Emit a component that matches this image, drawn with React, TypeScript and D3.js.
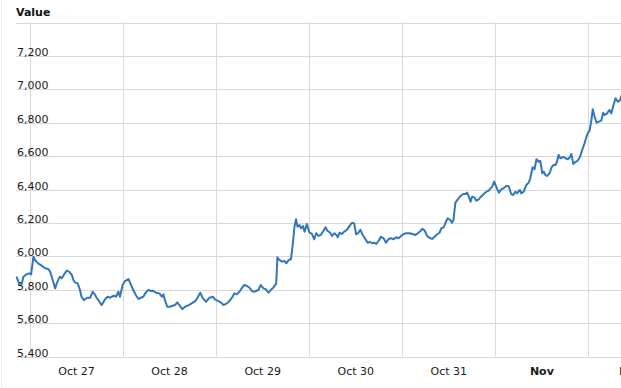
import React from "react";
import * as d3 from "d3";

// Hours after 2017-10-27 00:00 UTC
const hours = [
  -3.4, -2.8, -2.1, -1.7, -0.9, -0.2, 0.3, 0.9, 1.3, 2.1,
  3.0, 3.9, 4.7, 5.2, 5.6, 6.5, 6.9, 7.7, 8.2, 8.6,
  9.5, 10.1, 10.8, 11.2, 11.6, 12.3, 12.9, 13.3, 13.9, 14.8,
  15.5, 16.2, 16.8, 17.2, 17.9, 18.5, 19.4, 20.0, 20.7, 21.1,
  21.7, 22.2, 22.8, 23.2, 23.9, 24.5, 25.4, 26.0, 26.7, 27.4,
  28.0, 28.6, 29.2, 29.9, 30.5, 31.2, 31.8, 32.5, 33.4, 34.0,
  34.4, 34.8, 35.4, 36.1, 36.8, 37.4, 38.0, 38.7, 39.3, 40.0,
  40.9, 41.7, 42.6, 43.2, 43.9, 44.6, 45.4, 46.3, 47.2, 47.7,
  48.6, 49.2, 49.9, 50.8, 51.4, 52.1, 52.7, 53.3, 54.0, 54.6,
  55.2, 55.9, 56.6, 57.2, 57.8,
  58.9, 59.5, 60.2, 60.9, 61.5, 62.1, 62.8, 63.5, 63.8, 64.3,
  65.0, 65.6, 66.1, 66.7, 67.3, 67.8, 68.2, 68.6, 69.0, 69.5,
  69.9, 70.4, 70.8, 71.4, 72.0, 72.7, 73.3, 73.8, 74.4, 75.0,
  75.7, 76.2, 76.7, 77.4, 77.9, 78.5, 79.0, 79.4, 79.8, 80.4,
  81.0, 81.7, 82.4, 83.0, 83.6, 84.1, 84.6, 85.2, 85.8, 86.5,
  87.1, 87.6, 88.2, 88.8, 89.3, 89.9, 90.5, 91.2, 91.8, 92.5,
  93.1, 93.8, 94.4, 95.0, 95.7, 96.3, 97.0, 97.9, 98.8, 99.4,
  100.0, 100.7, 101.2, 101.8, 102.4, 103.0, 103.7, 104.3, 105.0, 105.6,
  106.1, 106.7, 107.1, 107.7, 108.4, 108.8, 109.2, 109.7, 110.3, 111.0,
  111.7, 112.3, 112.7, 113.1, 113.6, 114.0, 114.6, 115.1, 115.7, 116.3,
  117.0, 117.7, 118.3, 118.7,
  119.2, 119.7, 120.3, 120.9, 121.5, 122.1, 122.8, 123.4, 124.1, 124.6,
  125.2, 125.6, 126.3, 126.7, 127.3, 128.0, 128.6, 129.0, 129.6, 130.1,
  130.6, 131.2, 131.6, 132.1, 132.5, 132.9, 133.3, 134.0, 134.5, 135.0,
  135.5, 135.9, 136.3, 136.8, 137.5, 138.1, 138.7, 139.2, 139.6, 140.1,
  140.7, 141.2, 141.8, 142.4, 143.0, 143.5, 143.9, 144.3, 144.8, 145.1,
  145.6, 146.1, 146.7, 147.3, 147.8, 148.2, 148.8, 149.4, 149.9, 150.4,
  151.0, 151.6, 152.1, 152.5,
];

const values = [
  5874, 5838, 5834, 5878, 5892, 5898, 5892, 5998, 5978, 5958,
  5944, 5928, 5924, 5908, 5878, 5808, 5838, 5878, 5868, 5884,
  5914, 5908, 5888, 5858, 5844, 5838, 5798, 5758, 5738, 5752,
  5752, 5788, 5768, 5752, 5728, 5708, 5744, 5758, 5752, 5758,
  5764, 5758, 5788, 5758, 5828, 5852, 5864, 5832, 5795, 5764,
  5744, 5752, 5758, 5784, 5798, 5792, 5794, 5782, 5778, 5758,
  5772, 5738, 5698, 5698, 5704, 5708, 5724, 5702, 5684, 5698,
  5708, 5718, 5732, 5752, 5782, 5748, 5728, 5752, 5758, 5742,
  5732, 5724, 5708, 5718, 5732, 5752, 5778, 5772, 5788, 5808,
  5828, 5824, 5812, 5792, 5788,
  5798, 5828, 5808, 5802, 5782, 5798, 5814, 5838, 5994, 5978,
  5968, 5972, 5958, 5978, 5982, 6078, 6177, 6222, 6177, 6187,
  6168, 6181, 6147, 6193, 6144, 6134, 6102, 6138, 6122, 6128,
  6153, 6174, 6153, 6141, 6122, 6138, 6128, 6114, 6141, 6134,
  6147, 6158, 6181, 6201, 6197, 6132, 6138, 6158, 6128, 6102,
  6081, 6087, 6078, 6081, 6074, 6093, 6117, 6108, 6081, 6104,
  6108, 6102, 6114, 6108, 6122, 6132, 6138, 6138, 6132, 6128,
  6138, 6152, 6165, 6153, 6122, 6111, 6104, 6117, 6132, 6141,
  6168, 6174, 6198, 6228, 6217, 6201, 6217, 6321, 6341, 6361,
  6373, 6373, 6381, 6361, 6327, 6357, 6353, 6333, 6341, 6357,
  6373, 6387, 6393, 6405,
  6417, 6447, 6413, 6381, 6401, 6407, 6421, 6421, 6373, 6367,
  6387, 6377, 6397, 6377, 6387, 6427, 6441, 6467, 6533, 6521,
  6581, 6566, 6571, 6497, 6507, 6487, 6481, 6497, 6533, 6547,
  6547, 6566, 6607, 6587, 6596, 6587, 6581, 6593, 6613, 6553,
  6566, 6572, 6593, 6637, 6677, 6716, 6740, 6752, 6820, 6880,
  6836, 6800, 6806, 6812, 6860, 6846, 6856, 6876, 6856, 6900,
  6946, 6926, 6932, 6960,
];

const yTicks = [5400, 5600, 5800, 6000, 6200, 6400, 6600, 6800, 7000, 7200];
const yDomain = [5400, 7400];
const baseTime = Date.UTC(2017, 9, 27, 0, 0);
const xStart = new Date(Date.UTC(2017, 9, 26, 20, 24));
const xEnd = new Date(Date.UTC(2017, 10, 2, 8, 24));
const title = "Value";

const W = 621;
const H = 388;
const left = 16;
const right = 621;
const top = 22.5;
const bottom = 356.5;
const gridColor = "#d9d9d9";
const lineColor = "#3278b9";
const font = "'DejaVu Sans', Verdana, sans-serif";

export default function App() {
  const x = d3.scaleUtc().domain([xStart, xEnd]).range([left, right]);
  const y = d3.scaleLinear().domain(yDomain).range([bottom, top]);

  const data = hours.map((h, i) => ({
    t: new Date(baseTime + h * 3600 * 1000),
    v: values[i],
  }));

  const line = d3
    .line<{ t: Date; v: number }>()
    .x((d) => x(d.t))
    .y((d) => y(d.v));

  const days = d3.utcDay.range(d3.utcDay.ceil(xStart), xEnd);
  const labelDays = d3.utcDay.range(d3.utcDay.floor(xStart), xEnd).filter(
    (d) => x(d3.utcHour.offset(d, 12)) > left
  );
  const fmtDay = d3.utcFormat("%b %-d");
  const fmtMonth = d3.utcFormat("%b");

  return (
    <svg
      width={W}
      height={H}
      style={{ position: "absolute", left: 0, top: 0, display: "block" }}
      fontFamily={font}
    >
      <rect x={0} y={0} width={W} height={H} fill="#fff" />
      <line x1={1.5} x2={1.5} y1={0} y2={H} stroke="#ececec" strokeWidth={1} />
      {/* horizontal grid */}
      {[...yTicks, yDomain[1]].map((v) => (
        <line
          key={"h" + v}
          x1={left}
          x2={right}
          y1={Math.round(y(v)) + 0.5}
          y2={Math.round(y(v)) + 0.5}
          stroke={gridColor}
          strokeWidth={1}
        />
      ))}
      {/* vertical grid */}
      {days.map((d) => (
        <line
          key={"v" + d.getTime()}
          x1={Math.round(x(d)) + 0.5}
          x2={Math.round(x(d)) + 0.5}
          y1={top}
          y2={bottom}
          stroke={gridColor}
          strokeWidth={1}
        />
      ))}
      {/* y labels */}
      {yTicks.map((v) => (
        <text
          key={"yl" + v}
          x={left + 1}
          y={Math.round(y(v)) - 0.5}
          fontSize={11}
          fill="#1a1a1a"
        >
          {d3.format(",")(v)}
        </text>
      ))}
      {/* x labels */}
      {labelDays.map((d) => {
        const isMonth = d.getUTCDate() === 1;
        return (
          <text
            key={"xl" + d.getTime()}
            x={x(d3.utcHour.offset(d, 12))}
            y={375}
            fontSize={11}
            textAnchor="middle"
            fontWeight={isMonth ? "bold" : "normal"}
            fill="#1a1a1a"
          >
            {isMonth ? fmtMonth(d) : fmtDay(d)}
          </text>
        );
      })}
      <text x={16} y={16} fontSize={11} fontWeight="bold" fill="#111">
        {title}
      </text>
      <path
        d={line(data) || ""}
        fill="none"
        stroke={lineColor}
        strokeWidth={2}
        strokeLinejoin="round"
        strokeLinecap="round"
      />
    </svg>
  );
}
